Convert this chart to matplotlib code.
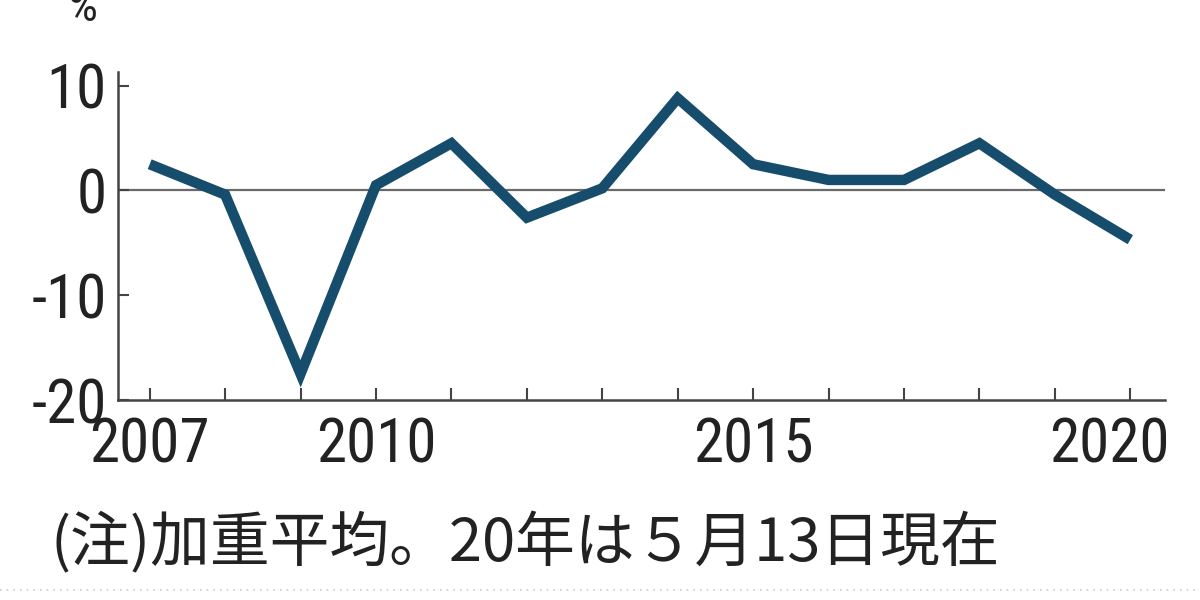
import matplotlib
matplotlib.use("Agg")
import matplotlib.pyplot as plt
import matplotlib.transforms as mtransforms
from matplotlib import font_manager as fm
from matplotlib.lines import Line2D

# data
years = [2007, 2008, 2009, 2010, 2011, 2012, 2013, 2014, 2015, 2016, 2017, 2018, 2019, 2020]
values = [2.5, -0.4, -17.5, 0.5, 4.5, -2.6, 0.2, 8.8, 2.5, 1.0, 1.0, 4.5, -0.4, -4.7]
xtick_labels = {2007: "2007", 2010: "2010", 2015: "2015", 2020: "2020"}
yticks = [10, 0, -10, -20]
note = "(注)加重平均。20年は５月13日現在"

# numbers in the original use a narrow face; take one if it is installed
entries = fm.fontManager.ttflist
num_family = "Liberation Sans"
num_stretch = "normal"
num_size = 38
for name in ["Liberation Sans Narrow", "Roboto Condensed", "Open Sans Condensed",
             "DejaVu Sans Condensed", "Noto Sans Condensed"]:
    if any(e.name == name for e in entries):
        num_family, num_size = name, 44
        break
else:
    for name in ["DejaVu Sans", "Noto Sans", "Roboto", "Open Sans"]:
        if any(e.name == name and e.stretch in ("condensed", 300, "semi-condensed")
               for e in entries):
            num_family, num_stretch, num_size = name, "condensed", 42
            break

num_font = dict(family=[num_family, "DejaVu Sans"], stretch=num_stretch)
jp_font = ["Noto Sans CJK JP", "DejaVu Sans"]

fig = plt.figure(figsize=(12, 6), dpi=100)
ax = fig.add_axes([118 / 1200, 1 - 400 / 600, (1165 - 118) / 1200, (400 - 72) / 600])

ax.axhline(0, color="#6a6a6a", lw=1.6, zorder=1)
ax.plot(years, values, color="#174d6c", lw=7.5, solid_joinstyle="miter",
        solid_capstyle="butt", zorder=3)

ax.set_xlim(2006.58, 2020.46)
ax.set_ylim(-20, 11.3)

for s in ["top", "right"]:
    ax.spines[s].set_visible(False)
for s in ["left", "bottom"]:
    ax.spines[s].set_color("#444444")
    ax.spines[s].set_linewidth(1.8)

ax.set_xticks(years)
ax.set_xticklabels([xtick_labels.get(y, "") for y in years],
                   fontsize=num_size, color="#222222", **num_font)
ax.set_yticks(yticks)
ax.set_yticklabels([str(v) for v in yticks], fontsize=num_size,
                   color="#222222", **num_font)
ax.tick_params(axis="x", direction="in", length=9, width=1.5, color="#444444", pad=12)
ax.tick_params(axis="y", direction="in", length=8, width=1.5, color="#444444", pad=8)

# last year label sits slightly left of its tick
last = ax.get_xticklabels()[-1]
last.set_transform(last.get_transform() +
                   mtransforms.ScaledTranslation(-0.21, 0, fig.dpi_scale_trans))

fig.text(82 / 1200, 1 - 8 / 600, "%", fontsize=34, ha="center", va="center",
         color="#222222", **num_font)
fig.text(50 / 1200, 1 - 544 / 600, note, family=jp_font, fontsize=43,
         ha="left", va="center", color="#222222")

fig.add_artist(Line2D([0, 1], [1 - 590 / 600] * 2, transform=fig.transFigure,
                      color="#cccccc", lw=1.2, linestyle=(0, (1, 3))))

fig.savefig("out.png", dpi=100)
